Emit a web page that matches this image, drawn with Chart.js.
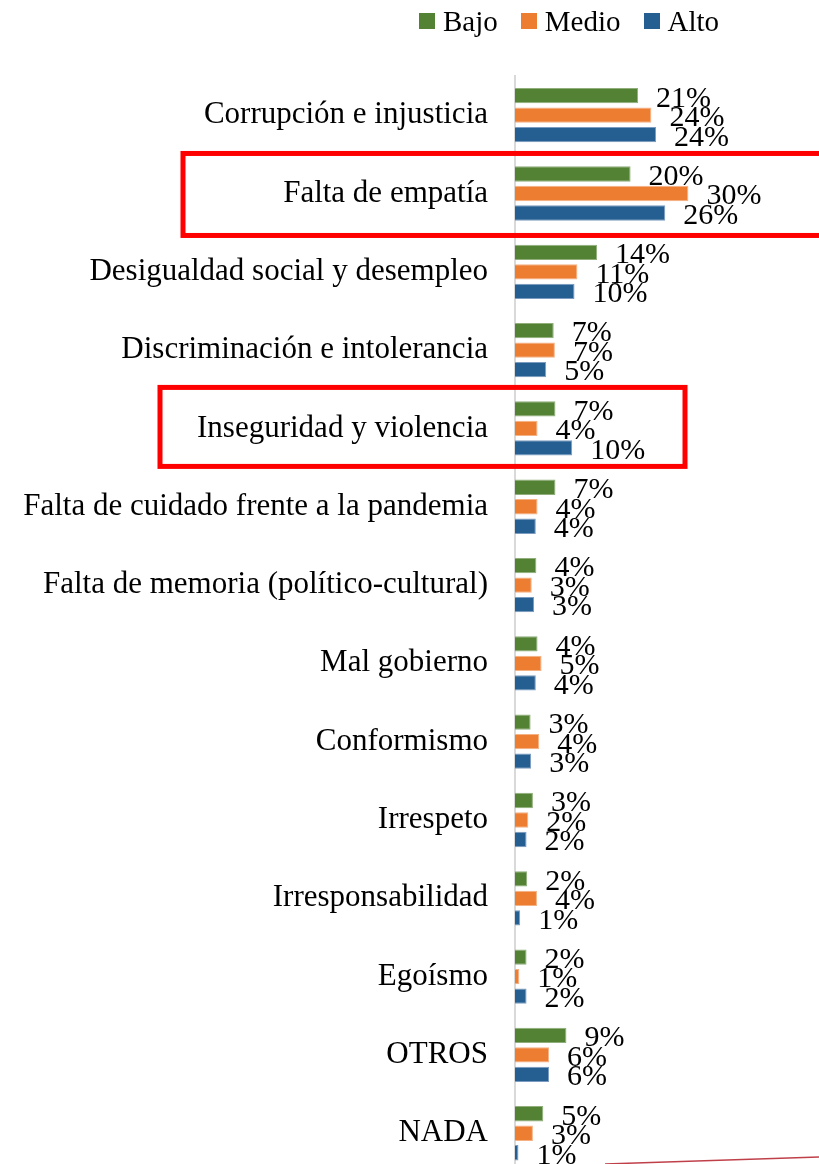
<!DOCTYPE html>
<html>
<head>
<meta charset="utf-8">
<script src="https://cdn.jsdelivr.net/npm/chart.js@4"></script>
<style>
  body { margin: 0; background: #fff; overflow: hidden; }
  #wrap { position: relative; width: 819px; height: 1218px; }
  #legend { position: absolute; top: 1px; left: 419px; height: 40px; display: flex; align-items: center;
    font-family: "Liberation Serif", serif; font-size: 29px; color: #000; }
  #legend .item { display: flex; align-items: center; margin-right: 23px; }
  #legend .box { width: 16px; height: 16px; margin-right: 8px; }
</style>
</head>
<body>
<div id="wrap">
  <canvas id="myChart" width="819" height="1218"></canvas>
  <div id="legend"></div>
</div>
<script>
// categories top to bottom
const categories = [
  'Corrupción e injusticia',
  'Falta de empatía',
  'Desigualdad social y desempleo',
  'Discriminación e intolerancia',
  'Inseguridad y violencia',
  'Falta de cuidado frente a la pandemia',
  'Falta de memoria (político-cultural)',
  'Mal gobierno',
  'Conformismo',
  'Irrespeto',
  'Irresponsabilidad',
  'Egoísmo',
  'OTROS',
  'NADA'
];
const seriesNames = ['Bajo', 'Medio', 'Alto'];
const bajo  = [21.3, 20.0, 14.2, 6.7, 7.0, 7.0, 3.7, 3.9, 2.7, 3.1, 2.1, 2.0, 8.9, 4.9];
const medio = [23.6, 30.0, 10.8, 6.9, 3.9, 3.9, 2.9, 4.6, 4.2, 2.3, 3.8, 0.75, 5.9, 3.1];
const alto  = [24.4, 26.0, 10.3, 5.4, 9.9, 3.6, 3.3, 3.6, 2.8, 2.0, 0.9, 2.0, 5.9, 0.6];
const boxed = [1, 4]; // categories framed in red

const colors = ['#548235', '#ed7d31', '#255e91'];
const edges = ['#8fae7a', '#f4b183', '#7b9cc0'];

// legend
const legend = document.getElementById('legend');
seriesNames.forEach((name, i) => {
  const item = document.createElement('div');
  item.className = 'item';
  item.innerHTML = '<div class="box" style="background:' + colors[i] + '"></div><span>' + name + '</span>';
  legend.appendChild(item);
});

// percent labels just right of each bar
const barLabels = {
  id: 'barLabels',
  afterDatasetsDraw(chart) {
    const ctx = chart.ctx;
    ctx.save();
    ctx.font = '30px "Liberation Serif", serif';
    ctx.fillStyle = '#000';
    ctx.textAlign = 'left';
    ctx.textBaseline = 'middle';
    chart.data.datasets.forEach((ds, i) => {
      chart.getDatasetMeta(i).data.forEach((bar, j) => {
        ctx.fillText(Math.round(ds.data[j]) + '%', bar.x + 18, bar.y + 3);
      });
    });
    ctx.restore();
  }
};

// red frames and the stray line at the bottom
const frames = {
  id: 'frames',
  afterDraw(chart) {
    const ctx = chart.ctx;
    const y = chart.scales.y;
    const geo = [
      { left: 183, right: 840, up: 40, down: 42 },
      { left: 160, right: 685, up: 41, down: 38 }
    ];
    ctx.save();
    ctx.strokeStyle = '#ff0000';
    ctx.lineWidth = 5;
    boxed.forEach((idx, k) => {
      const c = y.getPixelForValue(idx);
      const g = geo[k];
      ctx.strokeRect(g.left, c - g.up, g.right - g.left, g.up + g.down);
    });
    ctx.strokeStyle = '#c0404a';
    ctx.lineWidth = 1.5;
    ctx.beginPath();
    ctx.moveTo(605, 1164);
    ctx.lineTo(819, 1157);
    ctx.stroke();
    ctx.restore();
  }
};

new Chart(document.getElementById('myChart'), {
  type: 'bar',
  data: {
    labels: categories,
    datasets: [bajo, medio, alto].map((d, i) => ({
      label: seriesNames[i],
      data: d,
      backgroundColor: colors[i],
      borderColor: edges[i],
      borderWidth: 1,
      categoryPercentage: 0.747,
      barPercentage: 0.785
    }))
  },
  options: {
    indexAxis: 'y',
    responsive: false,
    animation: false,
    layout: { padding: { top: 76, bottom: 8, left: 0, right: 15 } },
    plugins: {
      legend: { display: false },
      tooltip: { enabled: false }
    },
    scales: {
      x: { display: false, min: 0, max: 50 },
      y: {
        afterFit(scale) { scale.width = 515; },
        grid: { display: false, drawTicks: false },
        border: { display: true, color: '#d9d9d9', width: 2 },
        ticks: {
          padding: 27,
          color: '#000',
          font: { family: '"Liberation Serif", serif', size: 31 }
        }
      }
    }
  },
  plugins: [barLabels, frames]
});
</script>
</body>
</html>
